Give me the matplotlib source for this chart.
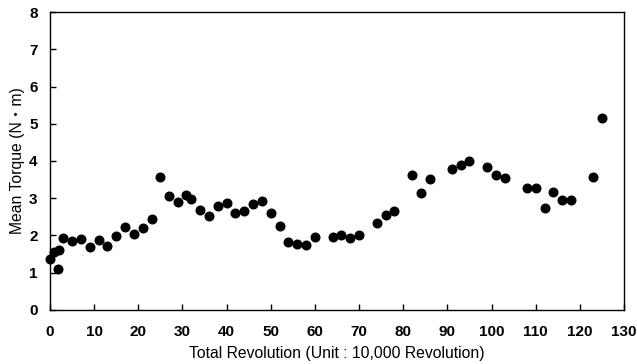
import matplotlib
matplotlib.use("Agg")
import matplotlib.pyplot as plt

revolution = [0.0, 1.0, 1.7, 2.1, 3.0, 5.0, 7.0, 9.0, 11.0, 13.0, 15.0, 17.0, 19.0, 21.0, 23.0,
              25.0, 27.0, 29.0, 30.8, 32.0, 34.0, 36.0, 38.0, 40.0, 42.0, 44.0, 46.0, 48.0,
              50.0, 52.0, 54.0, 56.0, 58.0, 60.0, 64.0, 66.0, 68.0, 70.0, 74.0, 76.0, 78.0,
              82.0, 84.0, 86.0, 91.0, 93.0, 95.0, 99.0, 101.0, 103.0, 108.0, 110.0, 112.0,
              114.0, 116.0, 118.0, 123.0, 125.0]
torque = [1.37, 1.55, 1.10, 1.61, 1.93, 1.85, 1.91, 1.69, 1.87, 1.73, 1.98, 2.23, 2.03, 2.20, 2.45,
          3.57, 3.06, 2.90, 3.09, 2.98, 2.68, 2.51, 2.78, 2.86, 2.61, 2.66, 2.85, 2.93,
          2.60, 2.25, 1.83, 1.78, 1.74, 1.95, 1.95, 2.00, 1.92, 2.00, 2.33, 2.54, 2.67,
          3.62, 3.14, 3.53, 3.79, 3.88, 4.01, 3.84, 3.62, 3.54, 3.28, 3.28, 2.74,
          3.16, 2.96, 2.96, 3.58, 5.15]

x_ticks = list(range(0, 131, 10))
y_ticks = list(range(0, 9))

fig = plt.figure(figsize=(6.37, 3.64), dpi=100)
ax = fig.add_axes([0.0785, 0.1484, 0.9011, 0.8186])
ax.plot(revolution, torque, 'o', color='black', markersize=6.2, linestyle='none',
        clip_on=False, zorder=3)

ax.set_xlim(0, 130)
ax.set_ylim(0, 8)
ax.set_xticks(x_ticks)
ax.set_yticks(y_ticks)
tick_font = dict(family=['Liberation Sans Narrow', 'Liberation Sans'], weight='bold', size=11)
ax.set_xticklabels([str(t) for t in x_ticks], fontdict=tick_font)
ax.set_yticklabels([str(t) for t in y_ticks], fontdict=tick_font)
ax.tick_params(direction='in', length=4, width=1, colors='black')
ax.tick_params(axis='x', pad=11)
ax.tick_params(axis='y', pad=9)
for s in ax.spines.values():
    s.set_linewidth(1.0)
    s.set_color('black')

ax.set_xlabel('Total Revolution (Unit : 10,000 Revolution)',
              family=['Liberation Sans', 'Noto Sans CJK JP'], size=11.3, labelpad=5)
ax.set_ylabel('Mean Torque (N・m)',
              family=['Liberation Sans', 'Noto Sans CJK JP'], size=11.3, labelpad=3)

fig.savefig('out.png', dpi=100)
